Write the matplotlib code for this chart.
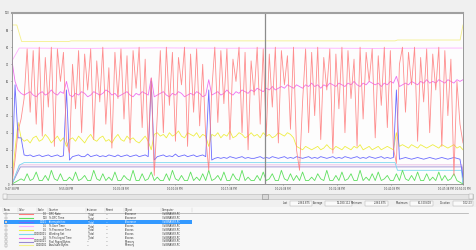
import numpy as np
import matplotlib
matplotlib.use("Agg")
import matplotlib.pyplot as plt
from matplotlib.patches import Rectangle

W, H = 476, 250

# time axis (seconds from 9:47:38 PM)
t_end = 3744
x_ticks = [0, 450, 900, 1350, 1800, 2250, 2700, 3150, 3600, 3744]
x_labels = ["9:47:38 PM", "9:55:08 PM", "10:02:38 PM", "10:10:08 PM", "10:17:38 PM",
            "10:25:08 PM", "10:32:38 PM", "10:40:08 PM", "10:47:38 PM", "10:50:02 PM"]
y_ticks = [0, 10, 20, 30, 40, 50, 60, 70, 80, 90, 100]
cursor_t = 2100

# sampled counters (scaled values 0-100)
dpc_rate = [0, 14, 31, 38, 50, 79, 42, 78, 35, 80,
            28, 74, 45, 80, 22, 79, 60, 77, 25, 18,
            70, 44, 78, 30, 76, 55, 79, 26, 72, 48,
            80, 35, 68, 21, 77, 50, 79, 38, 75, 24,
            78, 56, 80, 33, 73, 20, 62, 5, 40, 78,
            30, 80, 46, 77, 25, 74, 58, 80, 22, 76,
            42, 79, 34, 70, 28, 8, 55, 80, 36, 78,
            47, 79, 26, 73, 60, 80, 30, 77, 20, 72,
            52, 80, 35, 79, 28, 76, 45, 80, 24, 78,
            58, 75, 32, 80, 20, 8, 48, 79, 30, 77,
            40, 80, 26, 74, 55, 79, 18, 76, 44, 80,
            30, 78, 50, 73, 22, 80, 38, 77, 60, 79,
            27, 75, 46, 80, 33, 78, 21, 12, 70, 80,
            42, 77, 58, 80, 25, 74, 48, 79, 30, 76,
            55, 80, 22, 78, 40, 73, 5, 60, 35, 24]
dpc_time = [0, 1, 2, 3, 2, 6, 2, 3, 7, 2, 2, 5, 2, 8, 3, 2, 6, 2, 2, 4,
            2, 7, 2, 3, 5, 2, 2, 8, 3, 2, 6, 2, 4, 2, 7, 2, 2, 5, 3, 2,
            8, 2, 2, 6, 2, 3, 7, 2, 4, 2, 2, 6, 2, 8, 3, 2, 5, 2, 2, 7,
            2, 4, 2, 6, 2, 8, 2, 3, 5, 2, 7, 2, 2, 6, 3, 2, 8, 2, 4, 2,
            2, 5, 2, 7, 2, 3, 6, 2, 2, 8, 3, 2, 6, 2, 5, 2, 7, 2, 2, 4,
            2, 6, 3, 2, 8, 2, 2, 5, 2, 7, 2, 3, 6, 2, 2, 8, 2, 4, 2, 6,
            2, 7, 2, 3, 5, 2, 2, 6, 2, 8, 3, 2, 5, 2, 7, 2, 2, 6, 2, 4,
            2, 7, 2, 5, 2, 3, 6, 2, 1, 0]
interrupts = [5, 58, 27, 27, 17, 16.5, 17, 16, 16.5, 17,
              16, 16.5, 17, 16, 16.5, 17, 16, 16.5, 55, 14,
              16, 16.5, 17, 16, 16, 17.5, 16, 16.5, 17, 16,
              16.5, 16, 17, 16.5, 16, 17, 16, 16.5, 17, 16,
              16.5, 17, 16, 16.5, 17, 16, 60, 14, 16, 16.5,
              17, 16, 16.5, 16, 17.5, 16, 16.5, 17, 16, 16.5,
              17, 16, 16.5, 17, 16, 55, 14, 15, 15.5, 15,
              15.5, 15, 16, 15.5, 15, 15.5, 16, 15, 15.5, 15,
              15, 15.5, 16, 15, 15.5, 15, 16, 15.5, 15, 15.5,
              16, 15, 15.5, 15, 16, 15.5, 15, 15.5, 16, 15,
              15.5, 15, 16, 15.5, 15, 15.5, 16, 15, 15.5, 15,
              16, 15.5, 15, 15.5, 16, 15, 15.5, 15, 16, 15.5,
              15, 15.5, 16, 15, 15.5, 15, 15.5, 55, 14.5, 15,
              15.5, 15, 14.5, 15, 15.5, 15, 14.5, 15, 15.5, 15,
              14.5, 15, 15.5, 15, 14.5, 15, 15.5, 15, 14.5, 4]
privileged = [72, 60, 55, 53, 52, 53, 54, 52, 51, 53,
              54, 52, 53, 55, 53, 52, 54, 53, 60, 52,
              51, 53, 52, 54, 53, 51, 52, 54, 53, 52,
              53, 55, 54, 52, 53, 51, 52, 53, 54, 52,
              51, 53, 52, 54, 53, 52, 62, 51, 52, 53,
              54, 52, 51, 53, 52, 54, 53, 51, 52, 53,
              52, 54, 53, 51, 52, 61, 52, 53, 54, 52,
              53, 55, 53, 52, 54, 53, 55, 54, 53, 55,
              54, 56, 55, 54, 56, 55, 57, 55, 56, 57,
              56, 58, 57, 56, 58, 57, 56, 58, 57, 59,
              57, 58, 56, 58, 57, 59, 58, 57, 59, 58,
              57, 59, 58, 60, 58, 57, 59, 58, 60, 59,
              58, 59, 57, 59, 58, 60, 59, 63, 57, 58,
              59, 58, 60, 59, 58, 60, 59, 61, 59, 60,
              59, 61, 60, 59, 61, 60, 59, 61, 60, 61]
proc_time = [3, 20, 36, 27, 25, 26, 24, 27, 28, 25,
             26, 29, 27, 24, 26, 28, 25, 27, 22, 26,
             27, 25, 28, 26, 24, 27, 29, 26, 25, 27,
             28, 25, 26, 24, 27, 29, 26, 25, 28, 26,
             27, 25, 24, 26, 28, 25, 20, 29, 30, 28,
             29, 27, 30, 28, 29, 31, 28, 27, 30, 29,
             28, 30, 27, 29, 28, 22, 29, 28, 30, 27,
             29, 28, 31, 27, 28, 30, 29, 27, 28, 30,
             28, 29, 27, 30, 28, 29, 27, 28, 30, 29,
             28, 30, 29, 27, 22, 21, 20, 22, 21, 20,
             21, 22, 20, 21, 23, 21, 20, 22, 21, 20,
             22, 21, 20, 22, 21, 23, 20, 21, 22, 20,
             21, 22, 20, 21, 22, 21, 20, 30, 22, 23,
             22, 21, 23, 22, 21, 23, 22, 21, 22, 23,
             22, 21, 23, 22, 21, 22, 23, 21, 22, 20]

# slow counters, read at their change points
user_t = [0, 60, 600, 1200, 1800, 2400, 3000, 3600, 3736]
user_time = [72, 79.5, 79.3, 79.6, 79.4, 79.5, 79.3, 79.5, 79.5]
avail_t = [0, 40, 80, 470, 490, 3180, 3200, 3720, 3744]
avail_bytes = [93, 93, 83.3, 83.3, 83.7, 83.7, 84.2, 84.2, 93]
ws_t = [0, 60, 100, 3180, 3200, 3730, 3744]
working_set = [0, 11, 12.5, 12.5, 8, 8, 0]
pool_t = [0, 70, 3736, 3744]
pool_paged = [0, 10, 10, 0]
other_t = [0, 65, 3736, 3744]
other_counter = [0, 11.2, 11.2, 0]

# table rows
scales = ["1.0", "100", "0.001", "0.1", "0.1", "0.0000001", "0.1", "0.0000001", "0.000001"]
counters = ["DPC Rate", "% DPC Time", "Interrupts/sec", "% User Time", "% Processor Time",
            "Working Set", "% Privileged Time", "Pool Paged Bytes", "Available Bytes"]
instances = ["_Total", "_Total", "_Total", "_Total", "_Total", "_Total", "_Total", "---", "---"]
objects = ["Processor", "Processor", "Processor", "Process", "Process", "Process", "Process",
           "Memory", "Memory"]
row_colors = ["#ff7b7b", "#5ee05e", "#6b6bff", "#ffb0ff", "#eeee44", "#7ad8f0", "#f070f0",
              "#9a8ad0", "#f5f08a"]
stat_names = ["Last", "Average", "Minimum", "Maximum", "Duration"]
stat_values = ["2,364.875", "16,080.112", "2,364.875", "61,320.608", "1:02:23"]

fig = plt.figure(figsize=(W / 100, H / 100), dpi=100)
fig.patch.set_facecolor("#f0f0f0")

bg = fig.add_axes([0, 0, 1, 1])
bg.set_xlim(0, W)
bg.set_ylim(H, 0)
bg.axis("off")

ax = fig.add_axes([12 / W, 1 - 184 / H, 451 / W, 171 / H])
ax.set_facecolor("#fdfdfd")
ts = np.linspace(0, t_end, len(dpc_rate))
lw = 0.6
ax.plot(avail_t, avail_bytes, color=row_colors[8], lw=lw)
ax.plot(user_t, user_time, color=row_colors[3], lw=lw)
ax.plot(other_t, other_counter, color="#e8b8e0", lw=lw)
ax.plot(pool_t, pool_paged, color=row_colors[7], lw=lw)
ax.plot(ws_t, working_set, color=row_colors[5], lw=lw)
ax.plot(ts, dpc_time, color=row_colors[1], lw=lw)
ax.plot(ts, proc_time, color=row_colors[4], lw=lw)
ax.plot(ts, privileged, color=row_colors[6], lw=lw)
ax.plot(ts, interrupts, color=row_colors[2], lw=lw)
ax.plot(ts, dpc_rate, color=row_colors[0], lw=lw, alpha=0.85)
ax.axvline(cursor_t, color="#8c8c8c", lw=0.9)

ax.set_xlim(0, t_end)
ax.set_ylim(0, 100)
ax.set_xticks(x_ticks)
ax.set_xticklabels(x_labels, fontsize=1.5)
ax.set_yticks(y_ticks)
ax.tick_params(labelsize=1.8, length=1, width=0.4, pad=1, colors="#606060", labelcolor="#404040")
for s in ["left", "bottom", "right"]:
    ax.spines[s].set_color("#8a8a8a")
    ax.spines[s].set_linewidth(0.6)
ax.spines["top"].set_color("#a0a0a0")
ax.spines["top"].set_linewidth(1.5)

# scrollbar
bg.add_patch(Rectangle((3, 194), 470, 4.5, fc="#e4e4e4", ec="#b8b8b8", lw=0.4))
bg.add_patch(Rectangle((262, 193.5), 6, 5.5, fc="#d8d8d8", ec="#8a8a8a", lw=0.4))
bg.add_patch(Rectangle((3, 194), 4, 4.5, fc="#f4f4f4", ec="#a0a0a0", lw=0.3))
bg.add_patch(Rectangle((469, 194), 4, 4.5, fc="#f4f4f4", ec="#a0a0a0", lw=0.3))

# statistics row
box_x = [(290, 312), (325, 352), (365, 388), (410, 433), (453, 473)]
for name, val, (x0, x1) in zip(stat_names, stat_values, box_x):
    bg.text(x0 - 2, 203.3, name, fontsize=1.8, ha="right", va="center", color="#303030")
    bg.add_patch(Rectangle((x0, 201), x1 - x0, 4.6, fc="#fafafa", ec="#a8a8a8", lw=0.3))
    bg.text(x1 - 1, 203.3, val, fontsize=1.8, ha="right", va="center", color="#303030")

# counter table
bg.add_patch(Rectangle((0, 207), W, 43, fc="#f7f7f7", ec="none"))
headers = ["Show", "Color", "Scale", "Counter", "Instance", "Parent", "Object", "Computer"]
col_x = [4, 19, 38, 49, 87, 106, 125, 162]
for name, x in zip(headers, col_x):
    bg.text(x, 210, name, fontsize=1.8, ha="left", va="center", color="#303030")
    bg.plot([x - 1.5, x - 1.5], [208, 212], color="#c8c8c8", lw=0.3)
bg.plot([3, 468], [212.6, 212.6], color="#a8a8a8", lw=0.5)
bg.plot([192, 192], [208, 212], color="#c8c8c8", lw=0.3)

for k in range(len(counters)):
    y = 214.2 + 3.9 * k
    tc = "#303030"
    if k == 2:
        bg.add_patch(Rectangle((4, y - 2), 188, 4, fc="#3399ff", ec="none"))
        tc = "white"
    bg.add_patch(Rectangle((4.5, y - 1.2), 2.4, 2.4, fc="white", ec="#707070", lw=0.25))
    bg.plot([19, 33], [y, y], color=row_colors[k], lw=0.8)
    bg.text(47, y, scales[k], fontsize=1.8, ha="right", va="center", color=tc)
    bg.text(49, y, counters[k], fontsize=1.8, ha="left", va="center", color=tc)
    bg.text(87, y, instances[k], fontsize=1.8, ha="left", va="center", color=tc)
    bg.text(106, y, "---", fontsize=1.8, ha="left", va="center", color=tc)
    bg.text(125, y, objects[k], fontsize=1.8, ha="left", va="center", color=tc)
    bg.text(162, y, "\\\\VIBRASSY-PC", fontsize=1.8, ha="left", va="center", color=tc)

fig.savefig("out.png", dpi=100, facecolor=fig.get_facecolor())
